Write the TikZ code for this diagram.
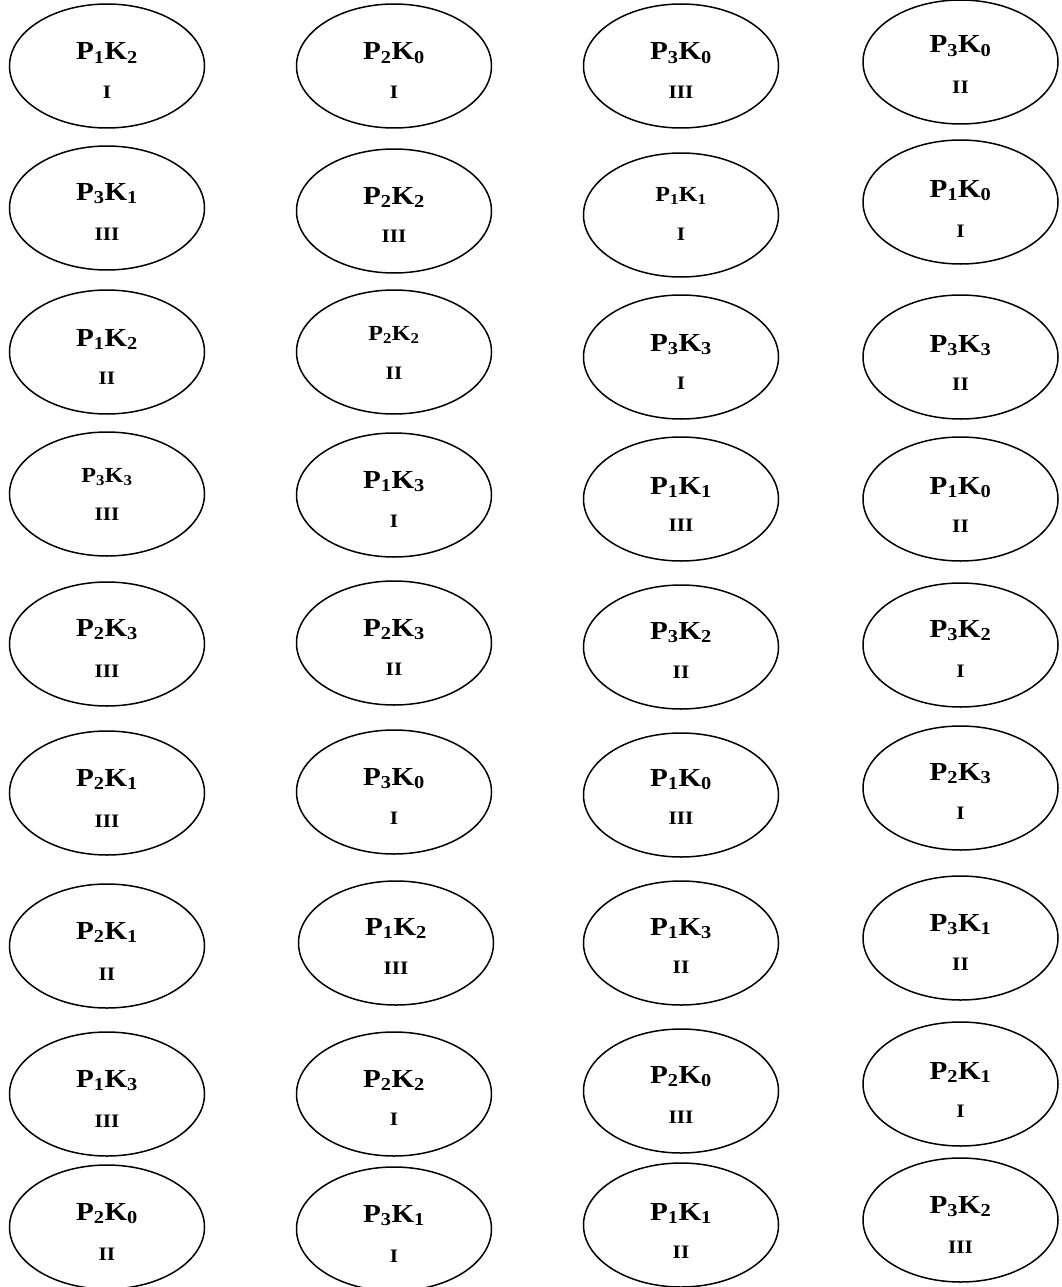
\documentclass[tikz,border=0pt]{standalone}
\usepackage{graphicx}
\usepackage{fontspec}
\setmainfont{Liberation Serif}
\usetikzlibrary{shapes.geometric}
\newcommand\lbl[2]{P\textsubscript{#1}K\textsubscript{#2}}
\newcommand\sx{1.12}
\tikzset{
  oval/.style={draw, ellipse, line width=1.5pt, minimum width=195pt, minimum height=124pt, inner sep=0pt},
  upper/.style={anchor=base, inner sep=0pt, font=\fontsize{26}{30}\selectfont\bfseries},
  uppersmall/.style={anchor=base, inner sep=0pt, font=\fontsize{21.5}{26}\selectfont\bfseries},
  lower/.style={anchor=base, inner sep=0pt, font=\fontsize{19}{22}\selectfont\bfseries},
}
\newcommand\ovalcell[8]{%
  \node[oval] (#1) at (#2,#3) {};
  \node[#8] (#1a) at (#2,{#3+#6}) {\scalebox{\sx}[1]{#4}};
  \node[lower] (#1b) at (#2,{#3+#7}) {\scalebox{\sx}[1]{#5}};
}
\begin{document}
\begin{tikzpicture}[x=1pt,y=-1pt]
\useasboundingbox (0,0) rectangle (1062,1287);
% column 1
\ovalcell{a1}{107}{66}{\lbl12}{I}{-6}{33}{upper}
\ovalcell{a2}{107}{208}{\lbl31}{III}{-8}{32}{upper}
\ovalcell{a3}{107}{352}{\lbl12}{II}{-6}{32}{upper}
\ovalcell{a4}{107}{494}{\lbl33}{III}{-12}{26}{uppersmall}
\ovalcell{a5}{107}{644}{\lbl23}{III}{-8}{33}{upper}
\ovalcell{a6}{107}{793}{\lbl21}{III}{-7}{34}{upper}
\ovalcell{a7}{107}{946}{\lbl21}{II}{-7}{34}{upper}
\ovalcell{a8}{107}{1094}{\lbl13}{III}{-7}{33}{upper}
\ovalcell{a9}{107}{1227}{\lbl20}{II}{-7}{33}{upper}
% column 2
\ovalcell{b1}{394}{66}{\lbl20}{I}{-6}{33}{upper}
\ovalcell{b2}{394}{211}{\lbl22}{III}{-7}{31}{upper}
\ovalcell{b3}{394}{352}{\lbl22}{II}{-12}{27}{uppersmall}
\ovalcell{b4}{394}{495}{\lbl13}{I}{-7}{32}{upper}
\ovalcell{b5}{394}{643}{\lbl23}{II}{-7}{32}{upper}
\ovalcell{b6}{394}{792}{\lbl30}{I}{-7}{32}{upper}
\ovalcell{b7}{396}{943}{\lbl12}{III}{-8}{31}{upper}
\ovalcell{b8}{394}{1094}{\lbl22}{I}{-7}{31}{upper}
\ovalcell{b9}{394}{1229}{\lbl31}{I}{-7}{33}{upper}
% column 3
\ovalcell{c1}{681}{66}{\lbl30}{III}{-6}{33}{upper}
\ovalcell{c2}{681}{215}{\lbl11}{I}{-14}{25}{uppersmall}
\ovalcell{c3}{681}{357}{\lbl33}{I}{-6}{32}{upper}
\ovalcell{c4}{681}{499}{\lbl11}{III}{-5}{32}{upper}
\ovalcell{c5}{681}{647}{\lbl32}{II}{-8}{31}{upper}
\ovalcell{c6}{681}{795}{\lbl10}{III}{-9}{29}{upper}
\ovalcell{c7}{681}{943}{\lbl13}{II}{-8}{30}{upper}
\ovalcell{c8}{681}{1091}{\lbl20}{III}{-8}{32}{upper}
\ovalcell{c9}{681}{1225}{\lbl11}{II}{-5}{33}{upper}
% column 4
\ovalcell{d1}{960.5}{62}{\lbl30}{II}{-9}{32}{upper}
\ovalcell{d2}{960.5}{202}{\lbl10}{I}{-5}{35}{upper}
\ovalcell{d3}{960.5}{357}{\lbl33}{II}{-5}{33}{upper}
\ovalcell{d4}{960.5}{499}{\lbl10}{II}{-5}{33}{upper}
\ovalcell{d5}{960.5}{645}{\lbl32}{I}{-8}{32}{upper}
\ovalcell{d6}{960.5}{788}{\lbl23}{I}{-8}{31}{upper}
\ovalcell{d7}{960.5}{938}{\lbl31}{II}{-7}{32}{upper}
\ovalcell{d8}{960.5}{1084}{\lbl21}{I}{-5}{33}{upper}
\ovalcell{d9}{960.5}{1220}{\lbl32}{III}{-7}{33}{upper}
\end{tikzpicture}
\end{document}
